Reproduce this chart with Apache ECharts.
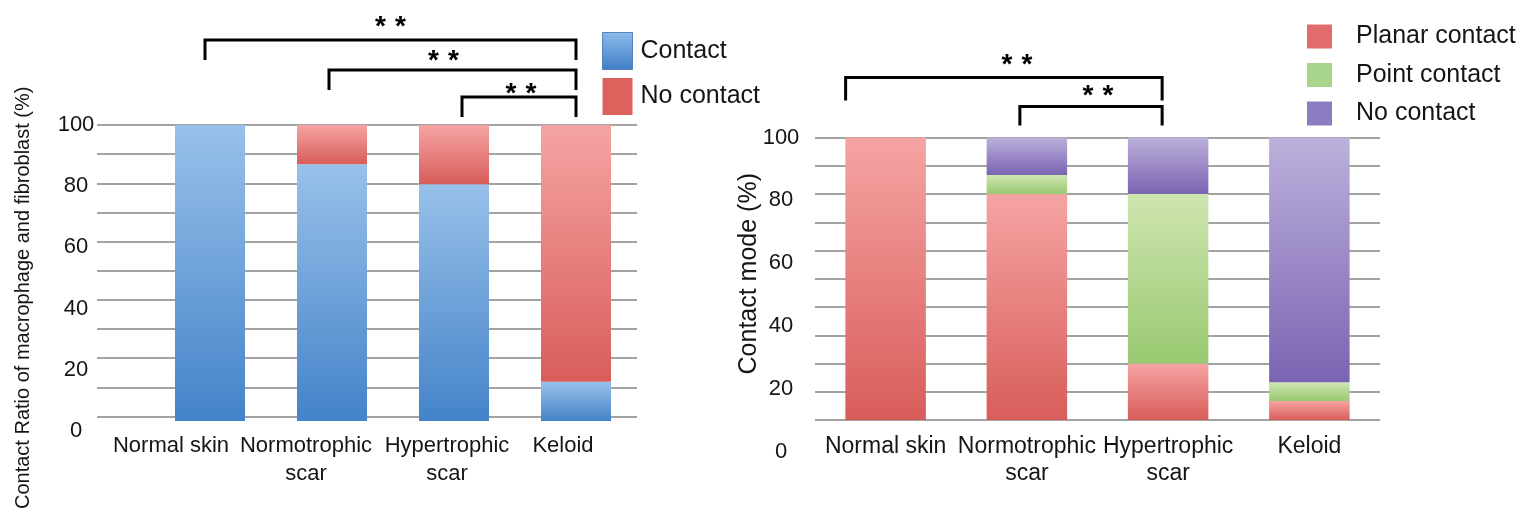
<!DOCTYPE html>
<html>
<head>
<meta charset="utf-8">
<script src="https://cdn.jsdelivr.net/npm/echarts@6/dist/echarts.min.js"></script>
<style>
  html, body { margin: 0; padding: 0; background: #ffffff; }
  #chart { width: 1530px; height: 511px; }
</style>
</head>
<body>
<div id="chart"></div>
<script>
// Categories shared by both panels
const categories = ['Normal skin', 'Normotrophic\nscar', 'Hypertrophic\nscar', 'Keloid'];

// Left panel: contact ratio of macrophage and fibroblast (%)
const contactRatio   = [100, 86.7, 80, 13.3];
const noContactRatio = [0, 13.3, 20, 86.7];

// Right panel: contact mode (%)
const planarContact = [100, 80, 20, 6.7];
const pointContact  = [0, 6.7, 60, 6.7];
const noContactMode = [0, 13.3, 20, 86.6];

// Tick labels of the value axes
const yTickLabels = ['0', '20', '40', '60', '80', '100'];

// Significance brackets: [from category, to category, mark]
const leftBrackets  = [[2, 3, '**'], [1, 3, '**'], [0, 3, '**']];
const rightBrackets = [[1, 2, '**'], [0, 2, '**']];

const FONT = '"Liberation Sans", Arial, Helvetica, sans-serif';
const TEXT = '#151515';
const GRID_LINE = '#a3a3a3';

function grad(top, bottom) {
  return new echarts.graphic.LinearGradient(0, 0, 0, 1, [
    { offset: 0, color: top }, { offset: 1, color: bottom }
  ]);
}

const BLUE   = grad('#98c1ea', '#4483c9');
const RED    = grad('#f5a4a3', '#d85d5a');
const GREEN  = grad('#cfe5b0', '#99c971');
const PURPLE = grad('#bcb0db', '#7a64b2');

// Bracket geometry (pixels, relative to the top of the plot area)
const leftBracketLayout = [
  { dx0: 8,  dx1: 0, rise: 28, leg: 8,  starDx: 2,  starRise: 3 },
  { dx0: -3, dx1: 0, rise: 55, leg: 35, starDx: -9, starRise: 9 },
  { dx0: -5, dx1: 0, rise: 85, leg: 65, starDx: 0,  starRise: 13 }
];
const rightBracketLayout = [
  { dx0: -7,  dx1: -6, rise: 31, leg: 12, starDx: 7,  starRise: 10 },
  { dx0: -40, dx1: -6, rise: 60, leg: 37, starDx: 13, starRise: 12 }
];

function bracketRenderer(brackets, layout) {
  return function (params, api) {
    const i = params.dataIndex;
    const L = layout[i];
    const top = api.coord([0, 100])[1];
    const x0 = api.coord([api.value(0), 100])[0] + L.dx0;
    const x1 = api.coord([api.value(1), 100])[0] + L.dx1;
    const yLine = top - L.rise;
    const yLeg = top - L.leg;
    const marks = brackets[i][2].split('');
    const cx = (x0 + x1) / 2 + L.starDx;
    const sy = yLine - L.starRise;
    const children = [{
      type: 'polyline',
      shape: { points: [[x0, yLeg], [x0, yLine], [x1, yLine], [x1, yLeg]] },
      style: { stroke: '#000', lineWidth: 3, fill: null }
    }];
    marks.forEach(function (m, k) {
      children.push({
        type: 'text',
        x: cx + (k - (marks.length - 1) / 2) * 20,
        y: sy,
        style: {
          text: m, fill: '#000', font: 'bold 28px ' + FONT,
          align: 'center', verticalAlign: 'middle'
        }
      });
    });
    return { type: 'group', children: children };
  };
}

// Per-label horizontal shifts of the left panel's category labels
const leftLabelShift = [39, 26, 7, 13];

const chart = echarts.init(document.getElementById('chart'), null, { renderer: 'canvas' });

const valueLabelAxis = (gridIndex, margin) => ({
  type: 'value', gridIndex, min: 0, max: 100, interval: 20,
  axisLine: { show: false }, axisTick: { show: false }, splitLine: { show: false },
  axisLabel: {
    margin, align: 'center', fontSize: 22, color: TEXT, fontFamily: FONT,
    formatter: v => yTickLabels[Math.round(v / 20)]
  }
});

const gridAxis = (gridIndex, name, nameGap, fontSize, namePad) => ({
  type: 'value', gridIndex, min: 0, max: 100, interval: 10,
  axisLine: { show: false }, axisTick: { show: false }, axisLabel: { show: false },
  splitLine: { show: true, lineStyle: { color: GRID_LINE, width: 2 } },
  name, nameLocation: 'middle', nameGap, nameRotate: 90,
  nameTextStyle: { fontSize, color: TEXT, fontFamily: FONT, padding: namePad }
});

const option = {
  animation: false,
  backgroundColor: '#ffffff',
  textStyle: { fontFamily: FONT },
  grid: [
    { left: 97,  top: 125,   width: 540, height: 296 },   // left: grid lines
    { left: 149, top: 125,   width: 488, height: 296 },   // left: bars
    { left: 97,  top: 125,   width: 540, height: 306 },   // left: tick labels
    { left: 815, top: 137.5, width: 565, height: 282.5 }, // right: lines and bars
    { left: 815, top: 137.5, width: 565, height: 314 }    // right: tick labels
  ],
  xAxis: [
    { type: 'category', gridIndex: 0, data: categories, show: false },
    {
      type: 'category', gridIndex: 1, data: categories,
      axisLine: { show: false }, axisTick: { show: false },
      axisLabel: {
        interval: 0, margin: 11, color: TEXT, fontSize: 22, lineHeight: 28,
        formatter: function (v, idx) {
          const s = 'c' + idx;
          return v.split('\n').map(line => '{' + s + '|' + line + '}').join('\n');
        },
        rich: (function () {
          const r = {};
          leftLabelShift.forEach(function (d, i) {
            r['c' + i] = { fontSize: 22, lineHeight: 28, color: TEXT, fontFamily: FONT, padding: [0, 2 * d, 0, 0] };
          });
          return r;
        })()
      }
    },
    { type: 'category', gridIndex: 2, data: categories, show: false },
    {
      type: 'category', gridIndex: 3, data: categories,
      axisLine: { show: false }, axisTick: { show: false },
      axisLabel: { interval: 0, margin: 13, color: TEXT, fontSize: 23, lineHeight: 27, fontFamily: FONT }
    },
    { type: 'category', gridIndex: 4, data: categories, show: false }
  ],
  yAxis: [
    gridAxis(0, 'Contact Ratio of macrophage and fibroblast (%)', 64, 20, [0, 54, 0, 0]),
    { type: 'value', gridIndex: 1, min: 0, max: 100, show: false },
    valueLabelAxis(2, 21),
    gridAxis(3, 'Contact mode (%)', 53, 25, [0, 0, 0, 10]),
    valueLabelAxis(4, 34)
  ],
  legend: [
    {
      left: 602, top: 32, orient: 'vertical', icon: 'rect', padding: 0,
      itemWidth: 30, itemHeight: 37, itemGap: 8, selectedMode: false,
      textStyle: { fontSize: 25, color: TEXT, fontFamily: FONT, padding: [0, 0, 8, 3] },
      data: [
        { name: 'Contact', itemStyle: { color: grad('#8dbbea', '#3f7dc6'), borderColor: '#5583bd', borderWidth: 1 } },
        { name: 'No contact', itemStyle: { color: '#dc625e' } }
      ]
    },
    {
      left: 1307, top: 24, orient: 'vertical', icon: 'rect', padding: 0,
      itemWidth: 25, itemHeight: 24, itemGap: 13.5, selectedMode: false,
      textStyle: { fontSize: 25, lineHeight: 24, color: TEXT, fontFamily: FONT, padding: [0, 0, 0, 19] },
      data: [
        { name: 'Planar contact', itemStyle: { color: '#e26b6b' } },
        { name: 'Point contact', itemStyle: { color: '#a9d48b' } },
        { name: 'No contact', itemStyle: { color: '#8e7cc2' } }
      ]
    }
  ],
  series: [
    { name: 'Contact', type: 'bar', xAxisIndex: 1, yAxisIndex: 1, stack: 'ratio', barWidth: '57.4%',
      itemStyle: { color: BLUE }, data: contactRatio },
    { name: 'No contact', type: 'bar', xAxisIndex: 1, yAxisIndex: 1, stack: 'ratio', barWidth: '57.4%',
      itemStyle: { color: RED }, data: noContactRatio },
    { type: 'custom', xAxisIndex: 1, yAxisIndex: 1, silent: true, clip: false,
      renderItem: bracketRenderer(leftBrackets, leftBracketLayout),
      encode: { x: [0, 1] },
      data: leftBrackets.map(b => [b[0], b[1]]) },

    { name: 'Planar contact', type: 'bar', xAxisIndex: 3, yAxisIndex: 3, stack: 'mode', barWidth: '57%',
      itemStyle: { color: RED }, data: planarContact },
    { name: 'Point contact', type: 'bar', xAxisIndex: 3, yAxisIndex: 3, stack: 'mode', barWidth: '57%',
      itemStyle: { color: GREEN }, data: pointContact },
    { name: 'No contact', type: 'bar', xAxisIndex: 3, yAxisIndex: 3, stack: 'mode', barWidth: '57%',
      itemStyle: { color: PURPLE }, data: noContactMode },
    { type: 'custom', xAxisIndex: 3, yAxisIndex: 3, silent: true, clip: false,
      renderItem: bracketRenderer(rightBrackets, rightBracketLayout),
      encode: { x: [0, 1] },
      data: rightBrackets.map(b => [b[0], b[1]]) }
  ]
};

chart.setOption(option);
</script>
</body>
</html>
